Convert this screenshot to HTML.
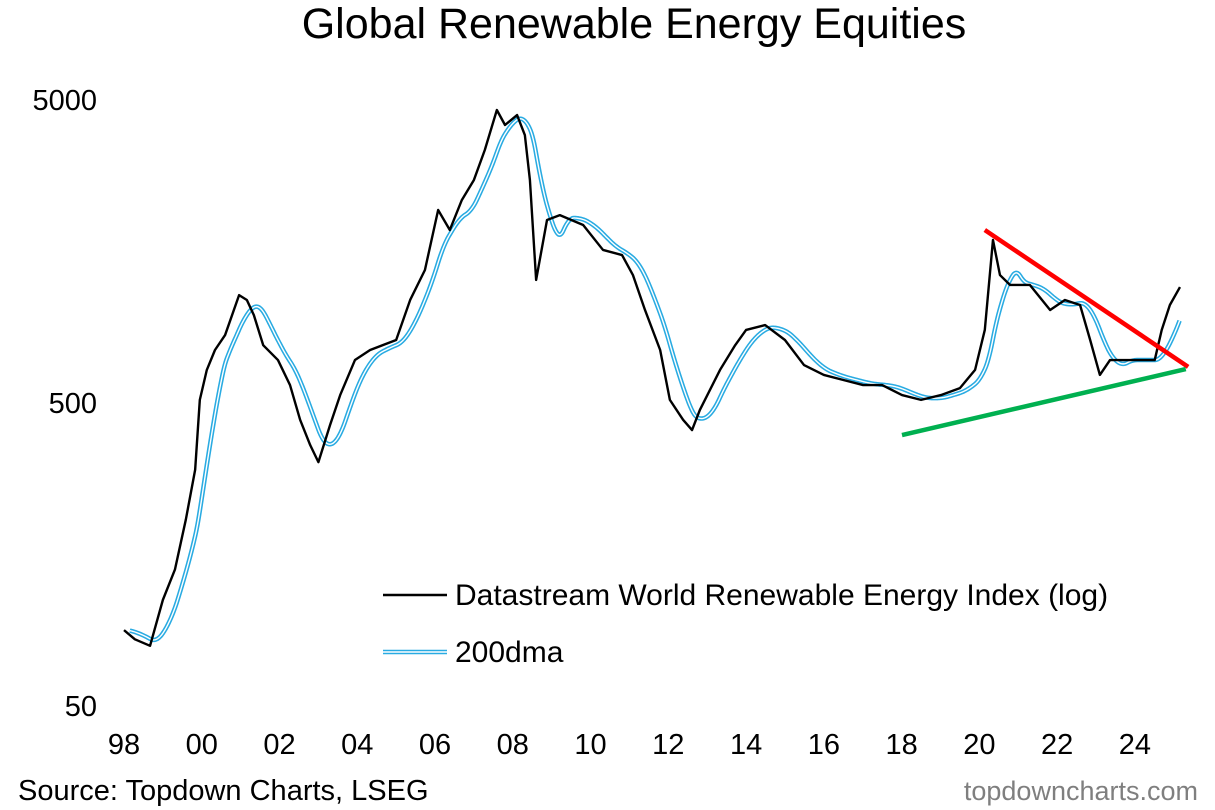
<!DOCTYPE html>
<html><head><meta charset="utf-8"><style>
body{margin:0;background:#fff;}
svg{display:block;font-family:"Liberation Sans",Arial,sans-serif;}
</style></head><body>
<svg id="chart" width="1215" height="810" viewBox="0 0 1215 810">
<rect width="1215" height="810" fill="#fff"/>
<text x="634" y="38" font-size="43" text-anchor="middle" fill="#000">Global Renewable Energy Equities</text>
<g id="yticks"></g><g id="xticks"></g>
<g id="series"></g>
<g>
<line x1="383" y1="595" x2="447" y2="595" stroke="#000" stroke-width="2.5"/>
<text x="455" y="605" font-size="30">Datastream World Renewable Energy Index (log)</text>
<line x1="383" y1="652" x2="447" y2="652" stroke="#29abe2" stroke-width="4.5"/>
<line x1="383" y1="652" x2="447" y2="652" stroke="#fff" stroke-width="1.5"/>
<text x="455" y="662" font-size="30">200dma</text>
</g>
<text x="18" y="800" font-size="29">Source: Topdown Charts, LSEG</text>
<text x="1198" y="800" font-size="27" fill="#7f7f7f" text-anchor="end">topdowncharts.com</text>
</svg>
<script>
const years=[1998.00,1998.28,1998.67,1999.00,1999.31,1999.59,1999.83,1999.95,2000.13,2000.34,2000.60,2000.96,2001.16,2001.34,2001.58,2001.96,2002.27,2002.53,2002.79,2003.00,2003.30,2003.56,2003.94,2004.33,2005.00,2005.36,2005.74,2006.08,2006.38,2006.69,2007.00,2007.28,2007.59,2007.80,2008.11,2008.31,2008.44,2008.60,2008.88,2009.21,2009.81,2010.32,2010.81,2011.09,2011.40,2011.79,2012.04,2012.38,2012.61,2012.81,2013.33,2013.72,2014.00,2014.49,2015.00,2015.49,2016.00,2016.49,2017.01,2017.50,2018.01,2018.50,2019.01,2019.50,2019.89,2020.14,2020.35,2020.53,2020.79,2021.30,2021.82,2022.20,2022.59,2022.85,2023.10,2023.36,2023.75,2024.13,2024.51,2024.69,2024.90,2025.16];
const values=[89,83,79,112,141,206,301,512,643,748,838,1135,1094,975,776,693,573,440,363,319,423,531,693,748,807,1094,1374,2168,1862,2339,2723,3420,4634,4135,4460,3831,2723,1274,2009,2084,1934,1600,1539,1322,1014,748,512,440,407,474,643,776,871,904,807,667,619,596,573,573,531,512,531,560,643,871,1726,1322,1226,1226,1014,1094,1053,807,619,693,693,693,693,871,1053,1207];
const redLine={years:[2020.14,2025.37],values:[1862,658]};
const greenLine={years:[2018.01,2025.31],values:[392,647]};
const yTicks=[50,500,5000];
const xTickYears=[1998,2000,2002,2004,2006,2008,2010,2012,2014,2016,2018,2020,2022,2024];
const xTickLabels=["98","00","02","04","06","08","10","12","14","16","18","20","22","24"];
const NS="http://www.w3.org/2000/svg";
const X=y=>124+(y-1998)*38.88;
const Y=v=>100+(Math.log10(5000)-Math.log10(v))*303;
function mk(t,a,p){const e=document.createElementNS(NS,t);for(const k in a)e.setAttribute(k,a[k]);p.appendChild(e);return e;}
const yt=document.getElementById('yticks');
yTicks.forEach(v=>{const t=mk('text',{x:97,y:Y(v)+10,'font-size':29,'text-anchor':'end'},yt);


t.textContent=v;});
const xt=document.getElementById('xticks');
xTickYears.forEach((yr,i)=>{const t=mk('text',{x:X(yr),y:754,'font-size':29,'text-anchor':'middle'},xt);


t.textContent=xTickLabels[i];});
function interp(t){if(t<=years[0])return Math.log10(values[0]);
for(let i=1;i<years.length;i++){if(t<=years[i]){const f=(t-years[i-1])/(years[i]-years[i-1]);return Math.log10(values[i-1])*(1-f)+Math.log10(values[i])*f;}}
return Math.log10(values[values.length-1]);}
const g=document.getElementById('series');
const win=0.7,pts=[];
for(let t=years[0]+0.15;t<=years[years.length-1];t+=0.02){let s=0,n=0;for(let u=t-win;u<=t;u+=0.01){s+=interp(Math.max(u,years[0]));n++;}pts.push(X(t)+','+Y(Math.pow(10,s/n)));}
const dma=mk('polyline',{points:pts.join(' '),fill:'none',stroke:'#29abe2','stroke-width':4.5,'stroke-linejoin':'round'},g);


mk('polyline',{points:pts.join(' '),fill:'none',stroke:'#fff','stroke-width':1.4},g);
const idx=mk('polyline',{points:years.map((y,i)=>X(y)+','+Y(values[i])).join(' '),fill:'none',stroke:'#000','stroke-width':2.4,'stroke-linejoin':'round'},g);


const r=mk('line',{x1:X(redLine.years[0]),y1:Y(redLine.values[0]),x2:X(redLine.years[1]),y2:Y(redLine.values[1]),stroke:'#ff0000','stroke-width':4.5},g);


const gr=mk('line',{x1:X(greenLine.years[0]),y1:Y(greenLine.values[0]),x2:X(greenLine.years[1]),y2:Y(greenLine.values[1]),stroke:'#00b050','stroke-width':4.5},g);


</script>
</body></html>
